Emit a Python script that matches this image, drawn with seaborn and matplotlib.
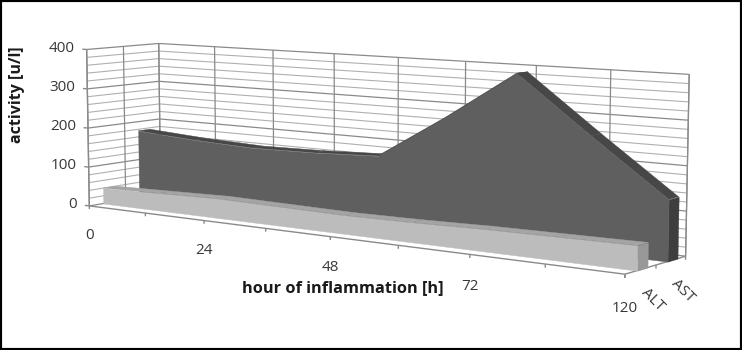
import numpy as np
import matplotlib
matplotlib.use('Agg')
import matplotlib.pyplot as plt
import seaborn as sns
from matplotlib.patches import Rectangle
from mpl_toolkits.mplot3d.art3d import Poly3DCollection, Line3DCollection

# ---------------- data ----------------
hours = [0, 12, 24, 36, 48, 60, 72, 96, 120]
hour_labels = ['0', '', '24', '', '48', '', '72', '', '120']
series = ['ALT', 'AST']
alt = [40, 44, 48, 46, 44, 46, 50, 52, 54]
ast = [176, 166, 160, 163, 170, 275, 388, 260, 136]
value_ticks = [0, 100, 200, 300, 400]
minor_step = 20

sns.set_theme(style='white')
plt.rcParams['font.family'] = ['Open Sans', 'DejaVu Sans']

fig = plt.figure(figsize=(7.42, 3.5), dpi=100)
fig.patch.set_facecolor('white')
ax = fig.add_axes([0.025, 0.04, 0.92, 1.06], projection='3d')
ax.set_proj_type('persp')
ax.view_init(elev=7, azim=-53)
ax.set_box_aspect((714, 122, 183), zoom=1.81)
ax.set_xticks([])
ax.set_yticks([])
ax.set_zticks([])
ax.set_axis_off()
for a in (ax.xaxis, ax.yaxis, ax.zaxis):
    a.label.set_visible(False)
    a.offsetText.set_visible(False)
ax.computed_zorder = False

xs = np.arange(len(hours))
X0, X1 = xs[0], xs[-1]
Y0, Y1 = 0, len(series)
Z0, Z1 = value_ticks[0], value_ticks[-1]
ax.set_xlim(X0, X1)
ax.set_ylim(Y0, Y1)
ax.set_zlim(Z0, Z1)

grid_c = '#b0b0b0'
major_c = '#8a8a8a'


def add(coll):
    coll.set_clip_on(False)
    ax.add_collection3d(coll)


# panes
panes = [
    [(X0, Y1, Z0), (X1, Y1, Z0), (X1, Y1, Z1), (X0, Y1, Z1)],
    [(X0, Y0, Z0), (X0, Y1, Z0), (X0, Y1, Z1), (X0, Y0, Z1)],
    [(X0, Y0, Z0), (X1, Y0, Z0), (X1, Y1, Z0), (X0, Y1, Z0)],
]
add(Poly3DCollection(panes, facecolors='white', edgecolors='none', zorder=0))

# gridlines
minor_z = np.arange(Z0, Z1 + 1, minor_step)
lines_minor, lines_major = [], []
for z in minor_z:
    tgt = lines_major if z in value_ticks else lines_minor
    tgt.append([(X0, Y1, z), (X1, Y1, z)])
    tgt.append([(X0, Y0, z), (X0, Y1, z)])
for x in xs:
    lines_major.append([(x, Y1, Z0), (x, Y1, Z1)])
for y in range(Y0, Y1 + 1):
    lines_major.append([(X0, y, Z0), (X0, y, Z1)])
lines_major.append([(X1, Y1, Z0), (X1, Y1, Z1)])
add(Line3DCollection(lines_minor, colors=grid_c, linewidths=0.8, zorder=1))
add(Line3DCollection(lines_major, colors=major_c, linewidths=0.9, zorder=1))

# floor axis lines and ticks
axis_lines = [
    [(X0, Y0, Z0), (X1, Y0, Z0)],
    [(X1, Y0, Z0), (X1, Y1, Z0)],
    [(X0, Y0, Z0), (X0, Y0, Z1)],
]
for x in xs:
    axis_lines.append([(x, Y0, Z0), (x, Y0, Z0 - 8)])
for y in range(Y0, Y1 + 1):
    axis_lines.append([(X1, y, Z0), (X1, y, Z0 - 8)])
for z in value_ticks:
    axis_lines.append([(X0, Y0, z), (X0 - 0.08, Y0, z)])
add(Line3DCollection(axis_lines, colors='#8a8a8a', linewidths=1.0, zorder=1))


# slabs
def slab(vals, y0, y1, c_front, c_top, c_side, z):
    n = len(vals)
    tops = []
    for i in range(n - 1):
        tops.append([(xs[i], y0, vals[i]), (xs[i + 1], y0, vals[i + 1]),
                     (xs[i + 1], y1, vals[i + 1]), (xs[i], y1, vals[i])])
    add(Poly3DCollection(tops, facecolors=c_top, edgecolors=c_top, linewidths=0.3, zorder=z))
    side = [[(xs[-1], y0, Z0), (xs[-1], y1, Z0), (xs[-1], y1, vals[-1]), (xs[-1], y0, vals[-1])]]
    add(Poly3DCollection(side, facecolors=c_side, edgecolors=c_side, linewidths=0.3, zorder=z))
    front = [(xs[0], y0, Z0)] + [(xs[i], y0, vals[i]) for i in range(n)] + [(xs[-1], y0, Z0)]
    add(Poly3DCollection([front], facecolors=c_front, edgecolors=c_front, linewidths=0.3, zorder=z))


slab(ast, 1.38, 1.72, '#5f5f5f', '#474747', '#3e3e3e', 3)
slab(alt, 0.38, 0.72, '#bcbcbc', '#a4a4a4', '#989898', 4)

# tick labels: project 3D anchor points to the axes' 2D coordinates
M = ax.get_proj()


def p2(x, y, z):
    v = M @ np.array([x, y, z, 1.0])
    return v[0] / v[3], v[1] / v[3]


fs = 11
tc = '#383838'
for z in value_ticks:
    px, py = p2(X0 - 0.22, Y0, z)
    ax.text2D(px, py, str(z), transform=ax.transData, ha='right', va='center',
              fontsize=fs, color=tc, zorder=6, clip_on=False)
for x, lab in zip(xs, hour_labels):
    if lab:
        px, py = p2(x, Y0, Z0 - 56)
        ax.text2D(px, py, lab, transform=ax.transData, ha='center', va='top',
                  fontsize=fs, color=tc, zorder=6, clip_on=False)
for i, s in enumerate(series):
    px, py = p2(X1 + 0.1, i + 0.5, Z0 - 32)
    ax.text2D(px, py, s, transform=ax.transData, ha='left', va='top', rotation=-45,
              rotation_mode='anchor', fontsize=fs, color=tc, zorder=6, clip_on=False)

fig.text(0.023, 0.729, 'activity [u/l]', rotation=90, ha='center', va='center',
         fontsize=11.5, fontweight='bold', color='#1a1a1a')
fig.text(0.462, 0.177, 'hour of inflammation [h]', ha='center', va='center',
         fontsize=11.8, fontweight='bold', color='#1a1a1a')

fig.patches.append(Rectangle((0, 0), 1, 1, transform=fig.transFigure, fill=False,
                             edgecolor='black', linewidth=3, zorder=10))

fig.savefig('out.png', dpi=100)
